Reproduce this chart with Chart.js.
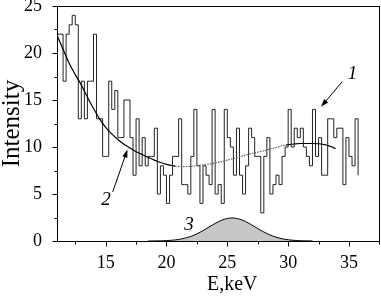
<!DOCTYPE html>
<html>
<head>
<meta charset="utf-8">
<script src="https://cdn.jsdelivr.net/npm/chart.js@4.4.1/dist/chart.umd.min.js"></script>
<style>
html,body{margin:0;padding:0;background:#fff;}
canvas{display:block;}
</style>
</head>
<body>
<canvas id="c" width="381" height="296"></canvas>
<script>
// ---------- data ----------
const histStart = 11.0;          // left edge of first bin (keV)
const histBinWidth = 0.25;       // bin width (keV)
const histLeadIn = [10.75, 16];  // value just left of the axis
const histCounts = [22,22,17,22,23,24,23,13,17,13,17,17,22,13,13,9,9,17,14,16,
  11,11,15,15,11,7,13,8,11,8,9,9,12,5,8,7,4,7,9,9,
  13,6,6,5,9,14,8,4,8,7,6,14,5,6,4,14,11,10,7,12,
  7,5,8,12,11,9,9,3,9,11,5,6,7,6,9,10,14,10,12,11,
  12,10,9,8,14,9,11,7,7,13,13,11,12,12,6,11,9,8,13];
const histTail = 7;              // level where the last step ends

const fitX = [11,11.5,12,12.5,13,13.5,14,14.5,15,15.5,16,16.5,17,17.5,18,18.5,19,19.5,20,20.7,
  21.5,22,23,24,25,26,27,28,29,29.8,30.5,31,32,33,33.5,33.9];
const fitY = [21.9,20.4,18.9,17.7,16.6,15.3,14.1,13.0,12.1,11.4,10.8,10.3,9.9,9.5,9.2,8.9,8.6,8.35,8.15,7.97,
  7.92,7.95,8.1,8.3,8.6,8.95,9.3,9.6,9.95,10.2,10.32,10.37,10.37,10.25,10.05,9.84];

const peakX = [18.5,19,19.5,20,20.5,21,21.5,22,22.5,23,23.5,24,24.5,25,25.5,26,26.5,27,27.5,28,28.5,29,29.5,30,30.5,31,31.5,32];
const peakY = [0.003,0.008,0.02,0.043,0.088,0.17,0.30,0.49,0.76,1.10,1.49,1.87,2.19,2.40,2.45,2.33,2.07,1.72,1.33,0.96,0.65,0.41,0.24,0.13,0.067,0.032,0.014,0.006];

const xTicks = [15,20,25,30,35];
const xMinorTicks = [12.5,17.5,22.5,27.5,32.5,37.5];
const yTicks = [0,5,10,15,20,25];
const yMinorTicks = [2.5,7.5,12.5,17.5,22.5];

const xTitle = 'E,keV';
const yTitle = 'Intensity';
const labels = ['1','2','3'];

// ---------- build datasets ----------
const histPoints = [{x: histLeadIn[0], y: histLeadIn[1]}];
histCounts.forEach((v, k) => histPoints.push({x: histStart + k * histBinWidth, y: v}));
histPoints.push({x: histStart + histCounts.length * histBinWidth, y: histTail});

const fitPoints = fitX.map((x, i) => ({x, y: fitY[i]}));
const peakPoints = peakX.map((x, i) => ({x, y: peakY[i]}));

const dotFrom = 20.7, dotTo = 29.8;
const SERIF = '"Liberation Serif", "Times New Roman", serif';

const decor = {
  id: 'decor',
  afterDraw(chart) {
    const {ctx, chartArea: a, scales: {x, y}} = chart;
    ctx.save();
    ctx.strokeStyle = '#000';
    ctx.lineWidth = 1;
    const L = Math.round(a.left) + 0.5, R = Math.round(a.right) - 0.5;
    const T = Math.round(a.top) + 0.5, B = Math.round(a.bottom) + 0.5;
    ctx.strokeRect(L, T, R - L, B - T);
    ctx.beginPath();
    xTicks.forEach(v => { const px = Math.round(x.getPixelForValue(v)) + 0.5; ctx.moveTo(px, B); ctx.lineTo(px, B + 5); });
    xMinorTicks.forEach(v => { const px = Math.round(x.getPixelForValue(v)) + 0.5; ctx.moveTo(px, B); ctx.lineTo(px, B + 3); });
    yTicks.forEach(v => { const py = Math.round(y.getPixelForValue(v)) + 0.5; ctx.moveTo(L, py); ctx.lineTo(L - 5, py); });
    yMinorTicks.forEach(v => { const py = Math.round(y.getPixelForValue(v)) + 0.5; ctx.moveTo(L, py); ctx.lineTo(L - 3, py); });
    ctx.stroke();

    ctx.fillStyle = '#000';
    // axis titles
    ctx.save();
    ctx.font = '25px ' + SERIF;
    ctx.translate(19, (a.top + a.bottom) / 2);
    ctx.rotate(-Math.PI / 2);
    ctx.textAlign = 'center';
    ctx.textBaseline = 'alphabetic';
    ctx.fillText(yTitle, 0, 0);
    ctx.restore();
    ctx.font = '20px ' + SERIF;
    ctx.textAlign = 'center';
    ctx.textBaseline = 'alphabetic';
    ctx.fillText(xTitle, x.getPixelForValue(25.4), 290);

    // curve labels
    ctx.font = 'italic 19px ' + SERIF;
    ctx.textBaseline = 'middle';
    const lab = [[35.28, 17.75], [15.03, 4.33], [21.86, 1.67]];
    labels.forEach((t, i) => ctx.fillText(t, x.getPixelForValue(lab[i][0]), y.getPixelForValue(lab[i][1])));

    // arrows
    const arrows = [[34.43, 16.93, 32.70, 14.27], [15.58, 5.22, 16.79, 9.73]];
    arrows.forEach(([x0, y0, x1, y1]) => {
      const p0x = x.getPixelForValue(x0), p0y = y.getPixelForValue(y0);
      const p1x = x.getPixelForValue(x1), p1y = y.getPixelForValue(y1);
      const ang = Math.atan2(p1y - p0y, p1x - p0x);
      const hl = 8, hw = 2.6;
      ctx.beginPath();
      ctx.moveTo(p0x, p0y);
      ctx.lineTo(p1x - Math.cos(ang) * hl * 0.8, p1y - Math.sin(ang) * hl * 0.8);
      ctx.lineWidth = 1;
      ctx.stroke();
      ctx.beginPath();
      ctx.moveTo(p1x, p1y);
      ctx.lineTo(p1x - Math.cos(ang) * hl - Math.sin(ang) * hw, p1y - Math.sin(ang) * hl + Math.cos(ang) * hw);
      ctx.lineTo(p1x - Math.cos(ang) * hl + Math.sin(ang) * hw, p1y - Math.sin(ang) * hl - Math.cos(ang) * hw);
      ctx.closePath();
      ctx.fill();
    });
    ctx.restore();
  }
};

new Chart(document.getElementById('c'), {
  type: 'line',
  data: {
    datasets: [
      {
        label: 'fit', data: fitPoints, order: 0,
        borderColor: '#000', borderWidth: 1.2, pointRadius: 0, fill: false,
        cubicInterpolationMode: 'monotone',
        segment: {
          borderColor: c => (c.p0.parsed.x >= dotFrom && c.p0.parsed.x < dotTo) ? '#5e5e5e' : '#000',
          borderDash: c => (c.p0.parsed.x >= dotFrom && c.p0.parsed.x < dotTo) ? [1.5, 1.2] : undefined
        }
      },
      {
        label: 'peak', data: peakPoints, order: 1,
        borderColor: '#000', borderWidth: 1, pointRadius: 0,
        backgroundColor: '#c6c6c6', fill: 'origin', tension: 0.3
      },
      {
        label: 'hist', data: histPoints, order: 2,
        borderColor: '#222', borderWidth: 1, pointRadius: 0, stepped: true, fill: false
      }
    ]
  },
  options: {
    responsive: false,
    animation: false,
    events: [],
    layout: {padding: {top: 6, right: 1, left: 0, bottom: 0}},
    plugins: {legend: {display: false}, tooltip: {enabled: false}},
    scales: {
      x: {
        type: 'linear', min: 11, max: 37.55,
        grid: {display: false}, border: {display: false},
        ticks: {color: '#000', font: {family: SERIF, size: 18}, padding: 3, maxRotation: 0},
        afterBuildTicks: s => { s.ticks = xTicks.map(v => ({value: v})); },
        afterFit: s => { s.height = 55; s.paddingLeft = 0; s.paddingRight = 0; }
      },
      y: {
        type: 'linear', min: 0, max: 25,
        grid: {display: false}, border: {display: false},
        ticks: {color: '#000', font: {family: SERIF, size: 18}, padding: 7},
        afterBuildTicks: s => { s.ticks = yTicks.map(v => ({value: v})); },
        afterFit: s => { s.width = 57; s.paddingTop = 0; s.paddingBottom = 0; }
      }
    }
  },
  plugins: [decor]
});
</script>
</body>
</html>
